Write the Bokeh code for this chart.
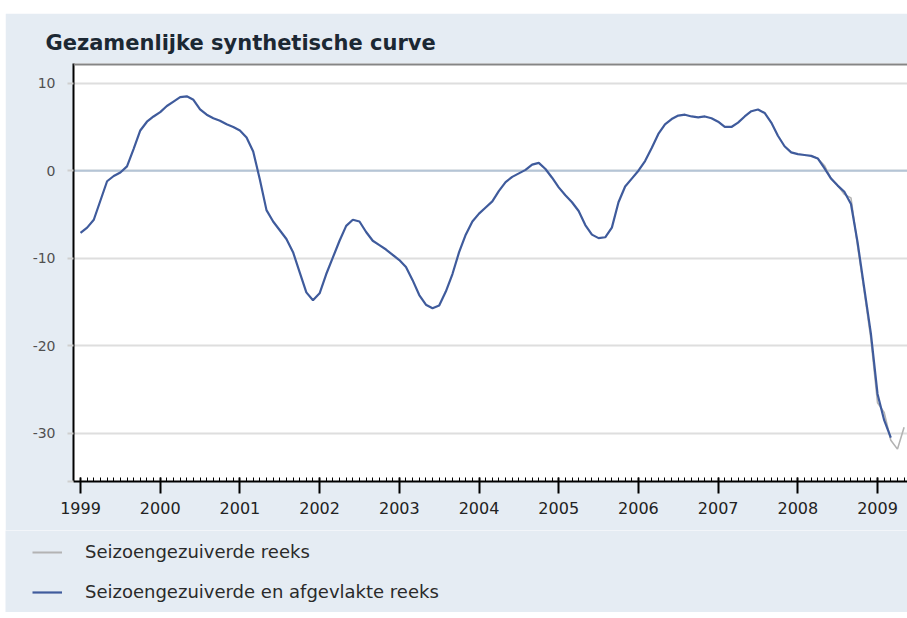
from bokeh.plotting import figure
from bokeh.models import Range1d, FixedTicker, Span, Legend, LegendItem, Spacer
from bokeh.layouts import column, row
from bokeh.embed import file_html
from bokeh.resources import INLINE

title_text = "Gezamenlijke synthetische curve"
legend_labels = ["Seizoengezuiverde reeks", "Seizoengezuiverde en afgevlakte reeks"]
start_year = 1999
year_ticks = list(range(1999, 2010))
y_ticks = [-30, -20, -10, 0, 10]

# Seizoengezuiverde en afgevlakte reeks (monthly, from Jan 1999)
smoothed = [
    -7.1, -6.5, -5.6, -3.4, -1.2, -0.6, -0.2, 0.5, 2.5, 4.6, 5.6, 6.2,          # 1999
    6.7, 7.4, 7.9, 8.4, 8.5, 8.1, 7.0, 6.4, 6.0, 5.7, 5.3, 5.0,                 # 2000
    4.6, 3.8, 2.2, -1.0, -4.5, -5.8, -6.8, -7.8, -9.3, -11.6, -13.9, -14.8,     # 2001
    -14.0, -11.8, -9.9, -8.0, -6.3, -5.6, -5.8, -7.0, -8.0, -8.5, -9.0, -9.6,   # 2002
    -10.2, -11.0, -12.5, -14.2, -15.3, -15.7, -15.4, -13.8, -11.8, -9.3, -7.3, -5.8,  # 2003
    -4.9, -4.2, -3.5, -2.3, -1.3, -0.7, -0.3, 0.1, 0.7, 0.9, 0.2, -0.8,         # 2004
    -1.9, -2.8, -3.6, -4.6, -6.2, -7.3, -7.7, -7.6, -6.5, -3.6, -1.8, -0.9,     # 2005
    0.0, 1.1, 2.6, 4.2, 5.3, 5.9, 6.3, 6.4, 6.2, 6.1, 6.2, 6.0,                 # 2006
    5.6, 5.0, 5.0, 5.5, 6.2, 6.8, 7.0, 6.6, 5.5, 4.0, 2.8, 2.1,                 # 2007
    1.9, 1.8, 1.7, 1.4, 0.3, -0.9, -1.7, -2.4, -3.8, -8.2, -13.4, -18.6,        # 2008
    -25.5, -28.5, -30.5,                                                         # 2009
]

# Seizoengezuiverde reeks (monthly, from Nov 2008 - index 110)
raw_start_index = 110
raw = [1.7, 1.4, 0.6, -0.9, -1.7, -2.7, -3.1, -8.6, -13.8, -19.2,
       -26.5, -27.6, -30.8, -31.8, -29.3]

x_smooth = [start_year + i / 12 for i in range(len(smoothed))]
x_raw = [start_year + (raw_start_index + i) / 12 for i in range(len(raw))]

BG = "#e5ecf3"
GRAY = "#b3b3b3"
BLUE = "#3f5b9c"

p = figure(width=902, height=517, output_backend="svg", toolbar_location=None,
           x_range=Range1d(1998.912, 2009.376), y_range=Range1d(-35.5, 12.25),
           background_fill_color="white", border_fill_color=BG,
           min_border_left=68, min_border_right=0, min_border_top=50, min_border_bottom=49)
p.outline_line_color = None
p.frame_align = False

p.title.text = title_text
p.title.text_font = "DejaVu Sans"
p.title.text_font_style = "bold"
p.title.text_font_size = "21px"
p.title.text_color = "#1c2833"
p.title.align = "left"
p.title.offset = -28
p.title.standoff = 18

# zero line and top border
p.add_layout(Span(location=0, dimension="width", line_color="#b5c5d6", line_width=2, level="underlay"))
p.add_layout(Span(location=12.25, dimension="width", line_color="#858585", line_width=4))

p.line(x_raw, raw, line_color=GRAY, line_width=1.6)
p.line(x_smooth, smoothed, line_color=BLUE, line_width=2.2)

# y axis
yax = p.yaxis[0]
yax.ticker = FixedTicker(ticks=[-35.5] + y_ticks)
overrides = {t: str(t) for t in y_ticks}
overrides[-35.5] = ""
yax.major_label_overrides = overrides
yax.axis_line_color = "black"
yax.axis_line_width = 2
yax.major_tick_line_color = "#cfcfcf"
yax.major_tick_line_width = 2
yax.major_tick_out = 6
yax.major_tick_in = 0
yax.minor_tick_line_color = None
yax.major_label_text_font = "DejaVu Sans"
yax.major_label_text_font_size = "14px"
yax.major_label_text_color = "#505050"
yax.major_label_standoff = 12

# x axis
minor = [start_year - 1 + m / 12 for m in range(11, 12 * 11 + 6)]
xax = p.xaxis[0]
xax.ticker = FixedTicker(ticks=year_ticks, minor_ticks=minor)
xax.axis_line_color = "black"
xax.axis_line_width = 2
xax.major_tick_line_color = "black"
xax.major_tick_line_width = 2
xax.major_tick_out = 12
xax.major_tick_in = 4
xax.minor_tick_line_color = "black"
xax.minor_tick_line_width = 1
xax.minor_tick_in = 4
xax.minor_tick_out = 0
xax.major_label_text_font = "DejaVu Sans"
xax.major_label_text_font_size = "16px"
xax.major_label_text_color = "#222222"
xax.major_label_standoff = 8

p.xgrid.grid_line_color = None
p.ygrid.grid_line_color = "#dedede"
p.ygrid.grid_line_width = 2

# legend panel below the chart
q = figure(width=902, height=82, output_backend="svg", toolbar_location=None,
           x_range=Range1d(0, 1), y_range=Range1d(0, 1),
           background_fill_color=BG, border_fill_color=BG,
           min_border_left=0, min_border_right=0, min_border_top=0, min_border_bottom=0)
q.outline_line_color = None
q.frame_align = False
q.axis.visible = False
q.grid.visible = False
g1 = q.line([-10, -9], [-10, -10], line_color=GRAY, line_width=2)
g2 = q.line([-10, -9], [-10, -10], line_color=BLUE, line_width=2.2)

legend = Legend(items=[
    LegendItem(label=legend_labels[0], renderers=[g1]),
    LegendItem(label=legend_labels[1], renderers=[g2]),
], location=(27, 10), orientation="vertical")
legend.background_fill_alpha = 0
legend.border_line_color = None
legend.glyph_width = 30
legend.glyph_height = 20
legend.label_height = 20
legend.label_standoff = 23
legend.spacing = 19
legend.padding = 0
legend.margin = 0
legend.label_text_font = "DejaVu Sans"
legend.label_text_font_size = "18px"
legend.label_text_color = "#2a2a2a"
q.add_layout(legend, "center")

layout = column(Spacer(height=13), row(Spacer(width=5), column(p, q)))
open("out.html", "w").write(file_html(layout, INLINE))
